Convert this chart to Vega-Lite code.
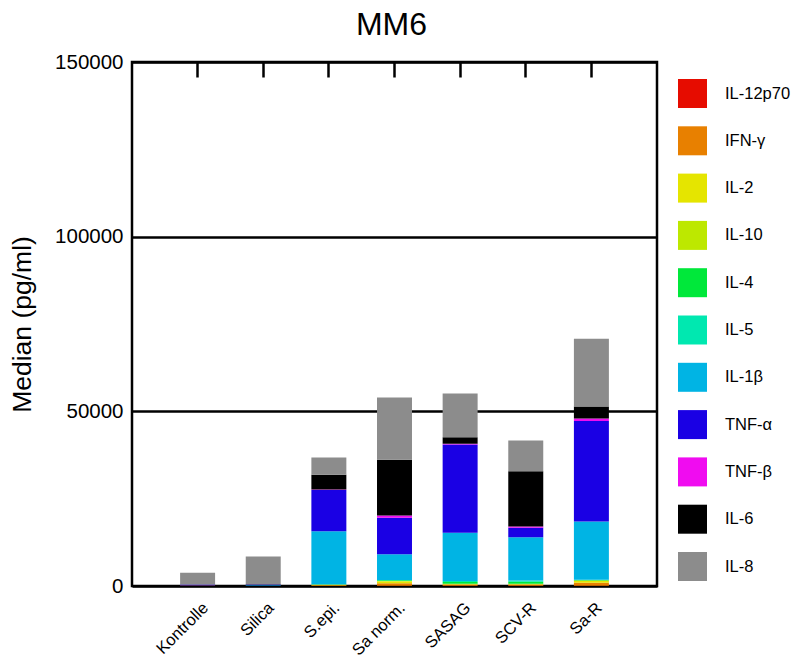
{
  "$schema": "https://vega.github.io/schema/vega-lite/v6.json",
  "autosize": {"type": "none"},
  "padding": {"left": 132, "top": 62, "right": 137, "bottom": 69},
  "width": 525,
  "height": 524,
  "background": "white",
  "title": {
    "text": "MM6",
    "font": "Liberation Sans",
    "fontSize": 32,
    "fontWeight": "normal",
    "color": "black",
    "anchor": "middle",
    "offset": 10,
    "dx": -3
  },
  "config": {
    "font": "Liberation Sans",
    "view": {"stroke": "black", "strokeWidth": 2.5},
    "axis": {"labelColor": "black", "titleColor": "black"}
  },
  "data": {
    "values": [
      {"gruppe": "Kontrolle", "zytokin": "IL-12p70", "wert": 150},
      {"gruppe": "Kontrolle", "zytokin": "IL-1β", "wert": 50},
      {"gruppe": "Kontrolle", "zytokin": "TNF-α", "wert": 200},
      {"gruppe": "Kontrolle", "zytokin": "IL-8", "wert": 3400},

      {"gruppe": "Silica", "zytokin": "IL-4", "wert": 100},
      {"gruppe": "Silica", "zytokin": "IL-1β", "wert": 150},
      {"gruppe": "Silica", "zytokin": "TNF-α", "wert": 150},
      {"gruppe": "Silica", "zytokin": "IL-6", "wert": 100},
      {"gruppe": "Silica", "zytokin": "IL-8", "wert": 7950},

      {"gruppe": "S.epi.", "zytokin": "IFN-γ", "wert": 200},
      {"gruppe": "S.epi.", "zytokin": "IL-2", "wert": 150},
      {"gruppe": "S.epi.", "zytokin": "IL-4", "wert": 50},
      {"gruppe": "S.epi.", "zytokin": "IL-5", "wert": 100},
      {"gruppe": "S.epi.", "zytokin": "IL-1β", "wert": 15190},
      {"gruppe": "S.epi.", "zytokin": "TNF-α", "wert": 11790},
      {"gruppe": "S.epi.", "zytokin": "TNF-β", "wert": 150},
      {"gruppe": "S.epi.", "zytokin": "IL-6", "wert": 4200},
      {"gruppe": "S.epi.", "zytokin": "IL-8", "wert": 4960},

      {"gruppe": "Sa norm.", "zytokin": "IL-12p70", "wert": 100},
      {"gruppe": "Sa norm.", "zytokin": "IFN-γ", "wert": 700},
      {"gruppe": "Sa norm.", "zytokin": "IL-2", "wert": 500},
      {"gruppe": "Sa norm.", "zytokin": "IL-10", "wert": 150},
      {"gruppe": "Sa norm.", "zytokin": "IL-4", "wert": 200},
      {"gruppe": "Sa norm.", "zytokin": "IL-5", "wert": 100},
      {"gruppe": "Sa norm.", "zytokin": "IL-1β", "wert": 7350},
      {"gruppe": "Sa norm.", "zytokin": "TNF-α", "wert": 10430},
      {"gruppe": "Sa norm.", "zytokin": "TNF-β", "wert": 660},
      {"gruppe": "Sa norm.", "zytokin": "IL-6", "wert": 15950},
      {"gruppe": "Sa norm.", "zytokin": "IL-8", "wert": 17840},

      {"gruppe": "SASAG", "zytokin": "IL-12p70", "wert": 50},
      {"gruppe": "SASAG", "zytokin": "IFN-γ", "wert": 400},
      {"gruppe": "SASAG", "zytokin": "IL-2", "wert": 100},
      {"gruppe": "SASAG", "zytokin": "IL-10", "wert": 100},
      {"gruppe": "SASAG", "zytokin": "IL-4", "wert": 500},
      {"gruppe": "SASAG", "zytokin": "IL-5", "wert": 300},
      {"gruppe": "SASAG", "zytokin": "IL-1β", "wert": 13780},
      {"gruppe": "SASAG", "zytokin": "TNF-α", "wert": 25290},
      {"gruppe": "SASAG", "zytokin": "TNF-β", "wert": 200},
      {"gruppe": "SASAG", "zytokin": "IL-6", "wert": 1890},
      {"gruppe": "SASAG", "zytokin": "IL-8", "wert": 12510},

      {"gruppe": "SCV-R", "zytokin": "IL-12p70", "wert": 50},
      {"gruppe": "SCV-R", "zytokin": "IFN-γ", "wert": 400},
      {"gruppe": "SCV-R", "zytokin": "IL-2", "wert": 100},
      {"gruppe": "SCV-R", "zytokin": "IL-10", "wert": 100},
      {"gruppe": "SCV-R", "zytokin": "IL-4", "wert": 600},
      {"gruppe": "SCV-R", "zytokin": "IL-5", "wert": 300},
      {"gruppe": "SCV-R", "zytokin": "IL-1β", "wert": 12420},
      {"gruppe": "SCV-R", "zytokin": "TNF-α", "wert": 2690},
      {"gruppe": "SCV-R", "zytokin": "TNF-β", "wert": 380},
      {"gruppe": "SCV-R", "zytokin": "IL-6", "wert": 15830},
      {"gruppe": "SCV-R", "zytokin": "IL-8", "wert": 8800},

      {"gruppe": "Sa-R", "zytokin": "IL-12p70", "wert": 100},
      {"gruppe": "Sa-R", "zytokin": "IFN-γ", "wert": 800},
      {"gruppe": "Sa-R", "zytokin": "IL-2", "wert": 500},
      {"gruppe": "Sa-R", "zytokin": "IL-10", "wert": 150},
      {"gruppe": "Sa-R", "zytokin": "IL-4", "wert": 150},
      {"gruppe": "Sa-R", "zytokin": "IL-5", "wert": 100},
      {"gruppe": "Sa-R", "zytokin": "IL-1β", "wert": 16670},
      {"gruppe": "Sa-R", "zytokin": "TNF-α", "wert": 28730},
      {"gruppe": "Sa-R", "zytokin": "TNF-β", "wert": 770},
      {"gruppe": "Sa-R", "zytokin": "IL-6", "wert": 3430},
      {"gruppe": "Sa-R", "zytokin": "IL-8", "wert": 19390}
    ]
  },
  "transform": [
    {"calculate": "indexof(['IL-12p70','IFN-γ','IL-2','IL-10','IL-4','IL-5','IL-1β','TNF-α','TNF-β','IL-6','IL-8'], datum.zytokin)", "as": "reihenfolge"}
  ],
  "layer": [
    {
      "mark": {"type": "bar"},
      "encoding": {
        "x": {
          "field": "gruppe",
          "type": "nominal",
          "sort": ["Kontrolle", "Silica", "S.epi.", "Sa norm.", "SASAG", "SCV-R", "Sa-R"],
          "scale": {"paddingInner": 0.467, "paddingOuter": 0.733},
          "axis": {
            "orient": "bottom",
            "title": null,
            "domain": false,
            "ticks": false,
            "grid": false,
            "labelAngle": -45,
            "labelAlign": "right",
            "labelBaseline": "middle",
            "labelFontSize": 16.5,
            "labelPadding": 19,
            "labelOffset": 8
          }
        },
        "y": {
          "field": "wert",
          "type": "quantitative",
          "aggregate": "sum",
          "stack": "zero",
          "scale": {"domain": [0, 150000], "nice": false},
          "axis": {
            "title": "Median (pg/ml)",
            "titleFontSize": 26.5,
            "titleFontWeight": "normal",
            "titlePadding": 18,
            "values": [0, 50000, 100000, 150000],
            "format": "d",
            "labelFontSize": 20.5,
            "labelPadding": 9,
            "ticks": false,
            "domain": false,
            "grid": true,
            "gridColor": "black",
            "gridWidth": 2.5,
            "gridOpacity": 1
          }
        },
        "color": {
          "field": "zytokin",
          "type": "nominal",
          "sort": ["IL-12p70", "IFN-γ", "IL-2", "IL-10", "IL-4", "IL-5", "IL-1β", "TNF-α", "TNF-β", "IL-6", "IL-8"],
          "scale": {
            "domain": ["IL-12p70", "IFN-γ", "IL-2", "IL-10", "IL-4", "IL-5", "IL-1β", "TNF-α", "TNF-β", "IL-6", "IL-8"],
            "range": ["#e60c00", "#e88000", "#e5e500", "#bde800", "#00e83a", "#00e8b0", "#00b4e4", "#1a00e4", "#f00cf0", "#000000", "#8c8c8c"]
          },
          "legend": {
            "title": null,
            "orient": "none",
            "legendX": 546,
            "legendY": 17,
            "padding": 0,
            "symbolType": "square",
            "symbolSize": 841,
            "symbolStrokeWidth": 0,
            "symbolOpacity": 1,
            "rowPadding": 18.3,
            "labelFontSize": 16.5,
            "labelOffset": 18,
            "labelColor": "black",
            "labelExpr": "datum.label == 'IL-1β' ? '\u00a0IL-1β' : datum.label"
          }
        },
        "order": {"field": "reihenfolge", "type": "quantitative", "aggregate": "min", "sort": "ascending"}
      }
    },
    {
      "mark": {"type": "rule", "opacity": 0},
      "encoding": {
        "x": {
          "field": "gruppe",
          "type": "nominal",
          "sort": ["Kontrolle", "Silica", "S.epi.", "Sa norm.", "SASAG", "SCV-R", "Sa-R"],
          "axis": {
            "orient": "top",
            "title": null,
            "labels": false,
            "domain": false,
            "ticks": true,
            "tickColor": "black",
            "tickWidth": 2.5,
            "tickSize": -15,
            "grid": false
          }
        }
      }
    }
  ],
  "resolve": {"axis": {"x": "independent"}}
}
